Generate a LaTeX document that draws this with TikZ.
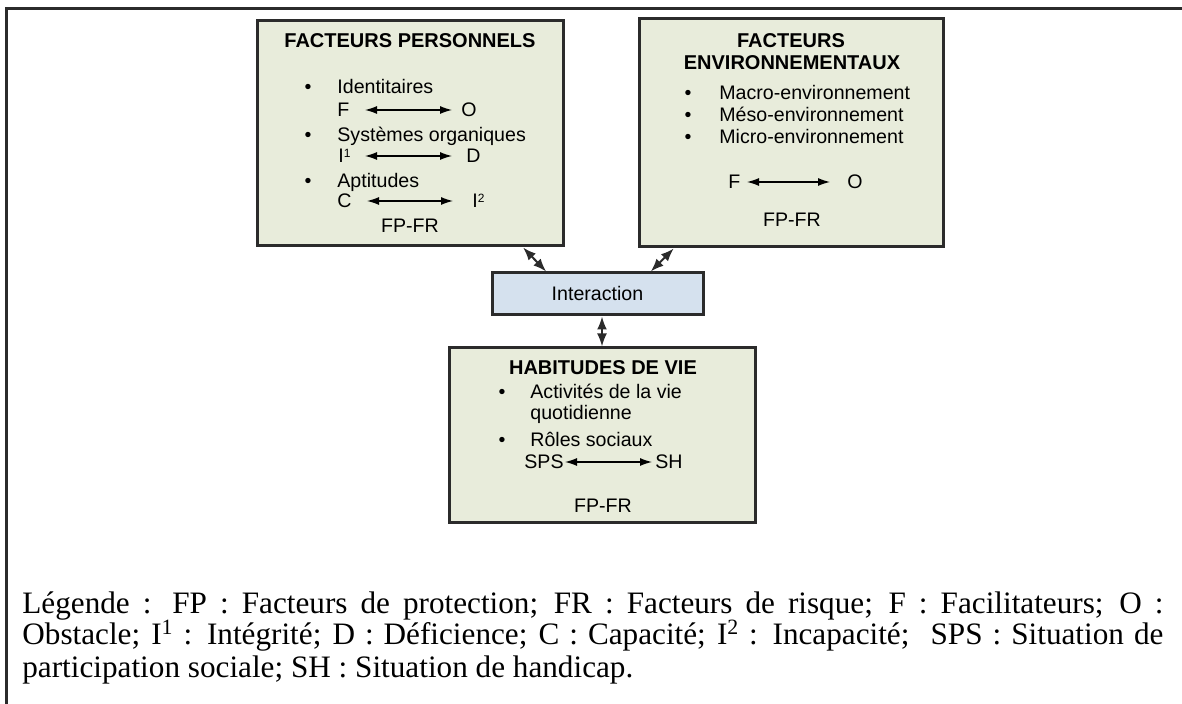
\documentclass[tikz,border=0pt]{standalone}
\usepackage{fontspec}
\setmainfont{Liberation Serif}
\newfontfamily\boxfont{Liberation Sans}
\usetikzlibrary{arrows.meta,calc}

\definecolor{boxfill}{HTML}{E8ECDB}
\definecolor{interfill}{HTML}{D5E1EE}
\definecolor{edge}{HTML}{2B2B2B}

\tikzset{
  panel/.style={draw=edge,line width=1.5pt,fill=boxfill,inner sep=0pt},
  interbox/.style={draw=edge,line width=1.5pt,fill=interfill,inner sep=0pt,font=\boxfont\fontsize{9.8pt}{11pt}\selectfont},
  txt/.style={inner sep=0pt,anchor=base west,font=\boxfont\fontsize{9.8pt}{11pt}\selectfont},
  ctxt/.style={inner sep=0pt,anchor=base,font=\boxfont\fontsize{9.8pt}{11pt}\selectfont},
  ttl/.style={inner sep=0pt,anchor=base,font=\boxfont\bfseries\fontsize{10pt}{11pt}\selectfont},
  bul/.style={inner sep=0pt,anchor=base,font=\boxfont\fontsize{9.8pt}{11pt}\selectfont},
  dblarrow/.style={{Latex[length=6pt,width=4pt]}-{Latex[length=6pt,width=4pt]},line width=0.6pt},
  linkarrow/.style={{Latex[length=6.5pt,width=5pt]}-{Latex[length=6.5pt,width=5pt]},line width=1pt,draw=edge},
  legend/.style={inner sep=0pt,anchor=base west,font=\fontsize{15.6pt}{16pt}\selectfont}
}
\newcommand{\smallsup}[1]{\raisebox{0.55ex}{\fontsize{6pt}{6pt}\selectfont #1}}

\begin{document}
\begin{tikzpicture}[x=0.5pt,y=-0.5pt]
\useasboundingbox (0,0) rectangle (1182,704);

% frame
\draw[edge,line width=1.5pt] (1182,9) -- (6,9) -- (6,704);

% boxes
\node[panel,minimum width=153pt,minimum height=112.5pt] (fp) at (410,133.5) {};
\node[panel,minimum width=152pt,minimum height=114pt] (fe) at (791,133) {};
\node[interbox,minimum width=105.5pt,minimum height=21pt] (int) at (597.5,294) {Interaction};
\node[panel,minimum width=153pt,minimum height=87.5pt] (hv) at (602,435.5) {};

% personal factors
\node[ttl] (fpt) at (410,48) {FACTEURS PERSONNELS};
\node[bul] (fpb1) at (308,94) {\textbullet};
\node[txt] (fpi1) at (337,94) {Identitaires};
\node[txt] (fpf) at (337,117) {F};
\node[txt] (fpo) at (461,117) {O};
\coordinate (fpa1) at (365,110);
\coordinate (fpa2) at (452,110);
\draw[dblarrow] (fpa1) -- (fpa2);
\node[bul] (fpb2) at (308,142) {\textbullet};
\node[txt] (fpi2) at (337,142) {Systèmes organiques};
\node[txt] (fpI) at (338,163) {I\smallsup{1}};
\node[txt] (fpd) at (466,163) {D};
\coordinate (fpa3) at (365,156);
\coordinate (fpa4) at (452,156);
\draw[dblarrow] (fpa3) -- (fpa4);
\node[bul] (fpb3) at (308,188) {\textbullet};
\node[txt] (fpi3) at (337,188) {Aptitudes};
\node[txt] (fpc) at (337,208) {C};
\node[txt] (fpI2) at (472,208) {I\smallsup{2}};
\coordinate (fpa5) at (367,201);
\coordinate (fpa6) at (453,201);
\draw[dblarrow] (fpa5) -- (fpa6);
\node[ctxt] (fpr) at (410,233) {FP-FR};

% environmental factors
\node[ttl] (fet1) at (791,48) {FACTEURS};
\node[ttl] (fet2) at (792,70) {ENVIRONNEMENTAUX};
\node[bul] (feb1) at (688,100) {\textbullet};
\node[txt] (fei1) at (719,100) {Macro-environnement};
\node[bul] (feb2) at (688,122) {\textbullet};
\node[txt] (fei2) at (719,122) {Méso-environnement};
\node[bul] (feb3) at (688,144) {\textbullet};
\node[txt] (fei3) at (719,144) {Micro-environnement};
\node[txt] (fef) at (728,189) {F};
\node[txt] (feo) at (847,189) {O};
\coordinate (fea1) at (747,182);
\coordinate (fea2) at (830,182);
\draw[dblarrow] (fea1) -- (fea2);
\node[ctxt] (fer) at (792,227) {FP-FR};

% life habits
\node[ttl] (hvt) at (603,375) {HABITUDES DE VIE};
\node[bul] (hvb1) at (502,399) {\textbullet};
\node[txt] (hvi1) at (530,399) {Activités de la vie};
\node[txt] (hvi1b) at (530,420) {quotidienne};
\node[bul] (hvb2) at (502,447) {\textbullet};
\node[txt] (hvi2) at (530,447) {Rôles sociaux};
\node[txt] (hvs) at (524,469) {SPS};
\node[txt] (hvh) at (655,469) {SH};
\coordinate (hva1) at (565,462);
\coordinate (hva2) at (652,462);
\draw[dblarrow] (hva1) -- (hva2);
\node[ctxt] (hvr) at (603,513) {FP-FR};

% links through the interaction box
\draw[linkarrow] ($(fp.south west)!0.866!(fp.south east)$) -- ($(int.north west)!0.26!(int.north east)$);
\draw[linkarrow] ($(fe.south west)!0.118!(fe.south east)$) -- ($(int.north west)!0.749!(int.north east)$);
\draw[linkarrow] (int.south -| hv.north) -- (hv.north);

% legend
\node[legend] (lg1) at (22,613) {\makebox[570.5pt][s]{Légende : FP : Facteurs de protection; FR : Facteurs de risque; F : Facilitateurs; O :}};
\node[legend] (lg2) at (22,645) {\makebox[570.5pt][s]{Obstacle; I\textsuperscript{1} : Intégrité; D : Déficience; C : Capacité; I\textsuperscript{2} : Incapacité; \ SPS : Situation de}};
\node[legend] (lg3) at (22,677) {participation sociale; SH : Situation de handicap.};
\end{tikzpicture}
\end{document}
